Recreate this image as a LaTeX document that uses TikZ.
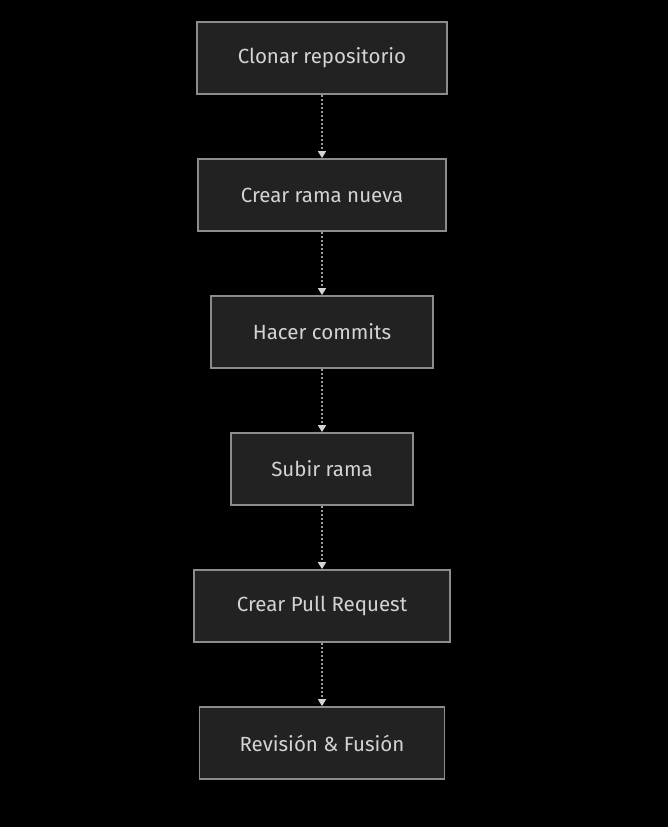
\documentclass[tikz,border=0pt]{standalone}
\usepackage{fontspec}
\setmainfont{Fira Sans}
\usetikzlibrary{arrows.meta}
\definecolor{bfill}{HTML}{222222}
\definecolor{bdraw}{HTML}{8C8C8C}
\definecolor{btext}{HTML}{D4D4D4}
\definecolor{lcol}{HTML}{9A9A9A}
\tikzset{
  stepbox/.style={draw=bdraw, line width=1.8pt, fill=bfill, text=btext, minimum height=72pt, inner sep=0pt, font=\fontsize{20.5}{24}\selectfont},
  flow/.style={draw=lcol, line width=1.6pt, dash pattern=on 2.5pt off 1.5pt, -{Triangle[length=7pt,width=8pt,fill=btext,color=btext]}, shorten >=0pt}
}
\begin{document}
\begin{tikzpicture}[x=1pt,y=-1pt]
\fill[black] (0,0) rectangle (668,827);
\useasboundingbox (0,0) rectangle (668,827);
\node[stepbox, minimum width=250pt] (a) at (322,58) {Clonar repositorio};
\node[stepbox, minimum width=248pt] (b) at (322,195) {Crear rama nueva};
\node[stepbox, minimum width=222pt] (c) at (322,332) {Hacer commits};
\node[stepbox, minimum width=182pt] (d) at (322,469) {Subir rama};
\node[stepbox, minimum width=256pt] (e) at (322,606) {Crear Pull Request};
\node[stepbox, minimum width=245pt] (f) at (322,743) {Revisión \& Fusión};
\draw[flow] (a) -- (b);
\draw[flow] (b) -- (c);
\draw[flow] (c) -- (d);
\draw[flow] (d) -- (e);
\draw[flow] (e) -- (f);
\end{tikzpicture}
\end{document}
